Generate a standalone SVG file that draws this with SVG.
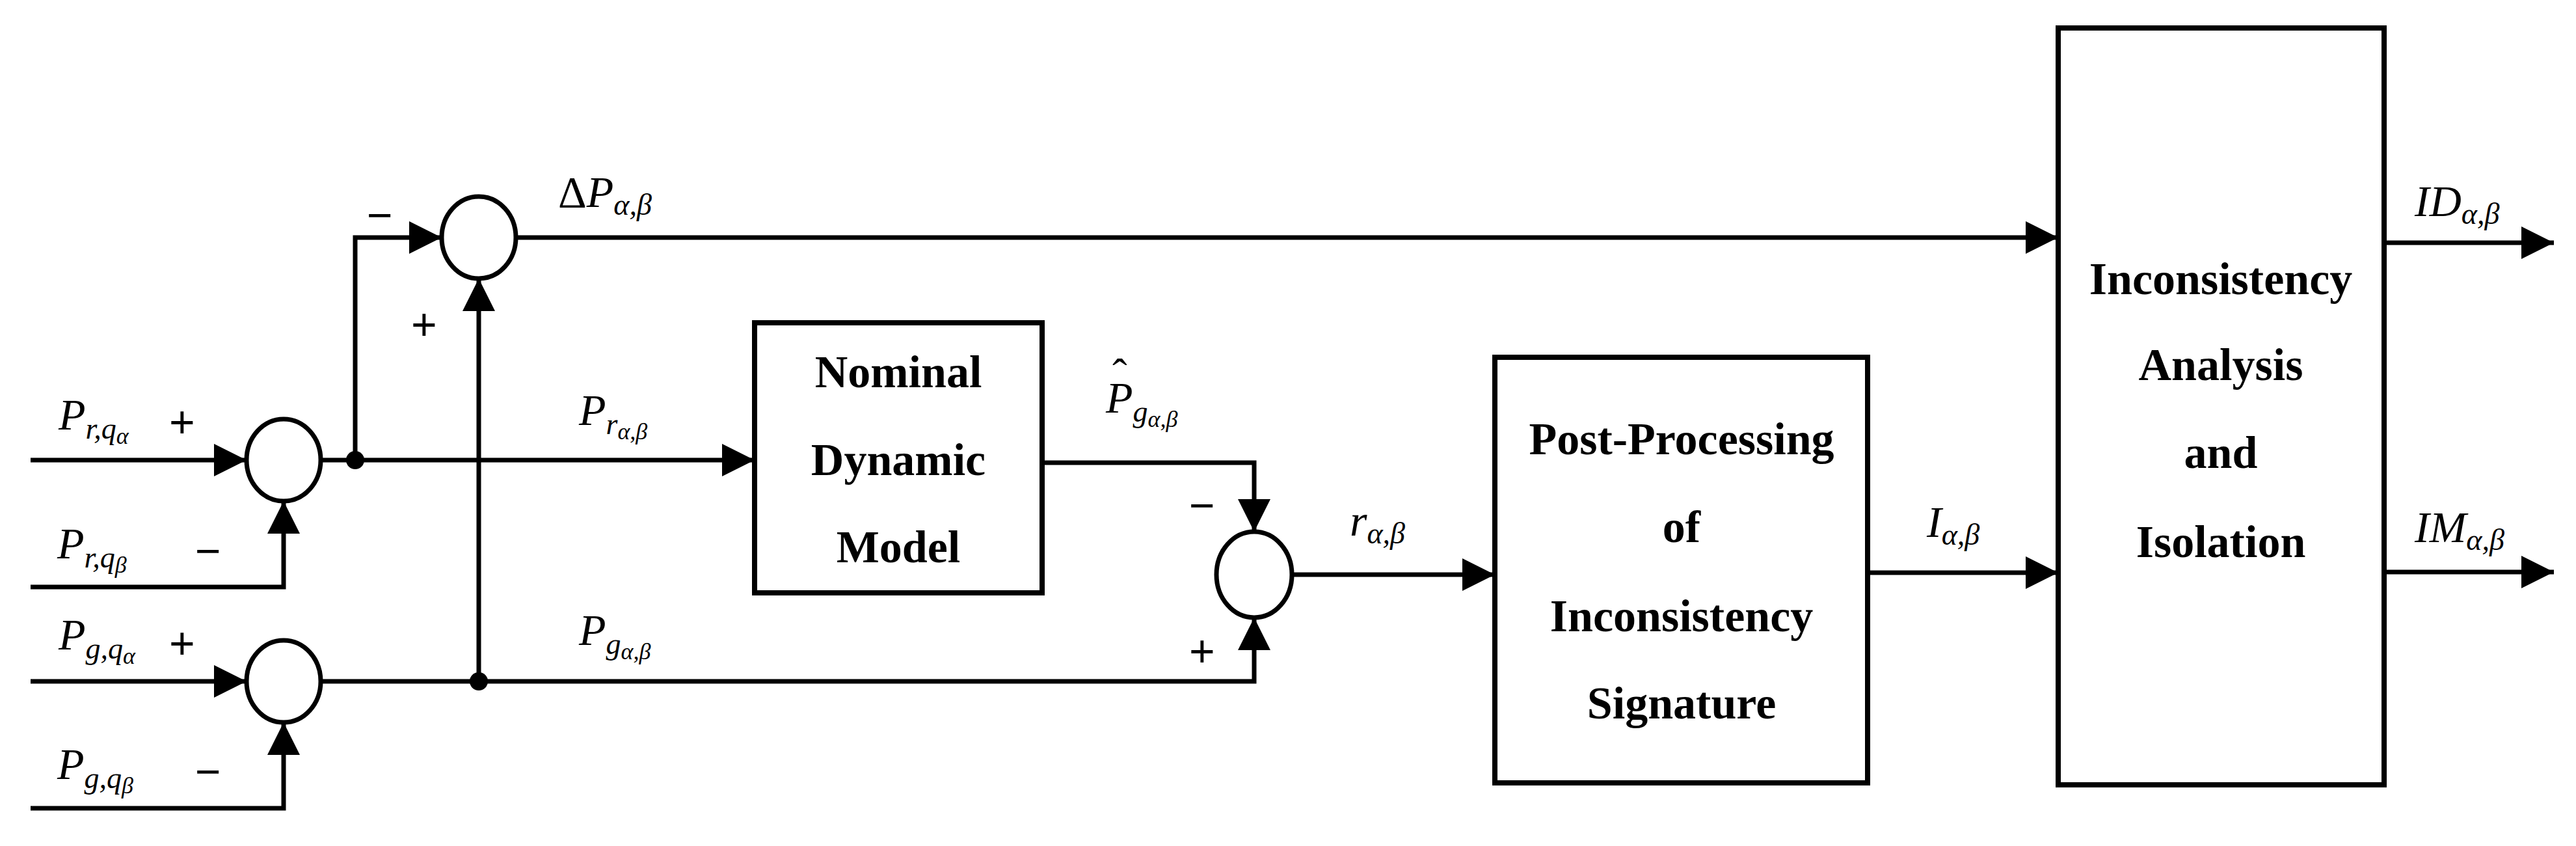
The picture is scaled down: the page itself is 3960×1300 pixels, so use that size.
<svg xmlns="http://www.w3.org/2000/svg" width="3960" height="1300" viewBox="0 0 3960 1300">
<style>
.ln{fill:none;stroke:#000;stroke-width:7}
.bx{fill:#fff;stroke:#000;stroke-width:8}
.sm{fill:#fff;stroke:#000;stroke-width:7}
.m{font-family:"Liberation Serif","DejaVu Serif",serif;font-style:italic;font-size:68px;fill:#000}
.s{font-size:46px}
.ss{font-size:36px}
.up{font-style:normal}
.sg{font-family:"Liberation Sans","DejaVu Sans",sans-serif;font-size:68px;fill:#000}
.t{font-family:"Liberation Serif","DejaVu Serif",serif;font-weight:bold;font-size:70px;fill:#000;text-anchor:middle}
</style>
<defs>
<marker id="ar" markerUnits="userSpaceOnUse" markerWidth="50" markerHeight="50" viewBox="0 0 50 50" refX="50" refY="25" orient="auto"><path d="M0,0 L50,25 L0,50 z" fill="#000"/></marker>
</defs>
<g id="connectors">
<path class="ln" d="M47,707 H379" marker-end="url(#ar)"/>
<path class="ln" d="M47,902 H436 V770" marker-end="url(#ar)"/>
<path class="ln" d="M47,1047 H379" marker-end="url(#ar)"/>
<path class="ln" d="M47,1242 H436 V1110" marker-end="url(#ar)"/>
<path class="ln" d="M493,707 H1160" marker-end="url(#ar)"/>
<path class="ln" d="M546,707 V365 H679" marker-end="url(#ar)"/>
<path class="ln" d="M493,1047 H1928 V949" marker-end="url(#ar)"/>
<path class="ln" d="M736,1047 V428" marker-end="url(#ar)"/>
<path class="ln" d="M793,365 H3164" marker-end="url(#ar)"/>
<path class="ln" d="M1602,711 H1928 V817" marker-end="url(#ar)"/>
<path class="ln" d="M1986,883 H2298" marker-end="url(#ar)"/>
<path class="ln" d="M2871,880 H3164" marker-end="url(#ar)"/>
<path class="ln" d="M3665,373 H3926" marker-end="url(#ar)"/>
<path class="ln" d="M3665,879 H3926" marker-end="url(#ar)"/>
<circle cx="546" cy="707" r="14"/>
<circle cx="736" cy="1047" r="14"/>
</g>
<g id="sum1"><ellipse class="sm" cx="436" cy="707" rx="57" ry="63"/></g>
<g id="sum2"><ellipse class="sm" cx="436" cy="1047" rx="57" ry="63"/></g>
<g id="sum3"><ellipse class="sm" cx="736" cy="365" rx="57" ry="63"/></g>
<g id="sum4"><ellipse class="sm" cx="1928" cy="883" rx="58" ry="66"/></g>
<g id="nominal"><rect class="bx" x="1160" y="496" width="442" height="415"/>
<text class="t" x="1381" y="595">Nominal</text><text class="t" x="1381" y="730">Dynamic</text><text class="t" x="1381" y="864">Model</text></g>
<g id="postproc"><rect class="bx" x="2298" y="549" width="573" height="654"/>
<text class="t" x="2585" y="698">Post-Processing</text><text class="t" x="2585" y="833">of</text><text class="t" x="2585" y="970">Inconsistency</text><text class="t" x="2585" y="1104">Signature</text></g>
<g id="analysis"><rect class="bx" x="3164" y="43" width="501" height="1163"/>
<text class="t" x="3414" y="452">Inconsistency</text><text class="t" x="3414" y="584">Analysis</text><text class="t" x="3414" y="719">and</text><text class="t" x="3414" y="856">Isolation</text></g>
<g id="labels">
<text class="m" x="90" y="660">P<tspan class="s" dy="14">r,q</tspan><tspan class="ss" dy="8">α</tspan></text>
<text class="m" x="88" y="858">P<tspan class="s" dy="14">r,q</tspan><tspan class="ss" dy="8">β</tspan></text>
<text class="m" x="90" y="998">P<tspan class="s" dy="14">g,q</tspan><tspan class="ss" dy="8">α</tspan></text>
<text class="m" x="88" y="1197">P<tspan class="s" dy="14">g,q</tspan><tspan class="ss" dy="8">β</tspan></text>
<text class="sg" x="260" y="672">+</text>
<text class="sg" x="300" y="870">−</text>
<text class="sg" x="260" y="1012">+</text>
<text class="sg" x="300" y="1209">−</text>
<text class="sg" x="564" y="354">−</text>
<text class="sg" x="632" y="522">+</text>
<text class="sg" x="1828" y="800">−</text>
<text class="sg" x="1828" y="1024">+</text>
<text class="m" x="858" y="318"><tspan class="up">Δ</tspan>P<tspan class="s" dy="12">α,β</tspan></text>
<text class="m" x="890" y="653">P<tspan class="s" dy="14">r</tspan><tspan class="ss" dy="8">α,β</tspan></text>
<text class="m" x="890" y="991">P<tspan class="s" dy="14">g</tspan><tspan class="ss" dy="8">α,β</tspan></text>
<text class="m" x="1700" y="634">P<tspan class="s" dy="14">g</tspan><tspan class="ss" dy="8">α,β</tspan></text>
<text class="m up" x="1710" y="598" font-size="60">ˆ</text>
<text class="m" x="2075" y="823">r<tspan class="s" dy="12">α,β</tspan></text>
<text class="m" x="2962" y="825">I<tspan class="s" dy="12">α,β</tspan></text>
<text class="m" x="3712" y="332">ID<tspan class="s" dy="12">α,β</tspan></text>
<text class="m" x="3712" y="833">IM<tspan class="s" dy="12">α,β</tspan></text>
</g>
</svg>
